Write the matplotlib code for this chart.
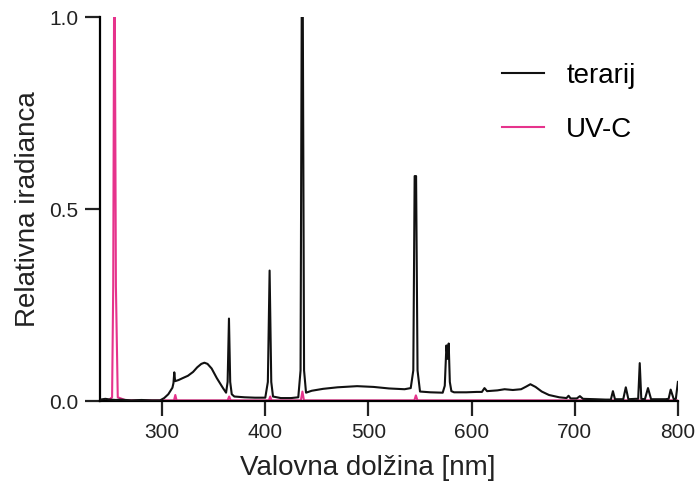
import numpy as np
import matplotlib.pyplot as plt

plt.rcParams['font.family'] = ['Liberation Sans', 'DejaVu Sans']

# spectrum of the terrarium lamp (wavelength nm, relative irradiance)
wl_terarij = [240, 245, 250, 255, 260, 270, 280, 290, 298, 302, 306, 310, 311, 311.8, 312.6,
              316, 320, 325, 330, 334, 338, 341, 344, 348, 353, 359, 362, 363.5, 364.8, 366,
              367.5, 370, 380, 390, 400, 402.5, 404.2, 405.8, 407.5, 415, 425, 432, 434.2,
              435.3, 436.4, 437.6, 439.5, 445, 456, 470, 489, 505, 520, 535, 541, 543.5,
              544.8, 546.2, 547.6, 550, 560, 572, 574, 575.6, 576.8, 577.8, 578.9, 580.4,
              583, 595, 605, 610, 612.5, 615, 625, 632, 640, 648, 653, 657, 662, 668, 675,
              685, 692, 694, 696, 702, 705, 708, 720, 730, 735, 737, 739, 747, 749.5, 752,
              759, 761.5, 763, 764.5, 768, 771, 774, 788, 791, 793, 796, 798, 800]
val_terarij = [0.004, 0.006, 0.004, 0.003, 0.004, 0.002, 0.003, 0.002, 0.002, 0.008, 0.018,
               0.035, 0.047, 0.075, 0.052, 0.055, 0.06, 0.066, 0.076, 0.088, 0.097, 0.1,
               0.097, 0.085, 0.06, 0.034, 0.022, 0.05, 0.215, 0.05, 0.018, 0.012, 0.01,
               0.009, 0.009, 0.05, 0.34, 0.05, 0.012, 0.008, 0.008, 0.01, 0.08, 1.0, 1.0,
               0.08, 0.022, 0.027, 0.032, 0.036, 0.039, 0.037, 0.033, 0.031, 0.034, 0.08,
               0.586, 0.586, 0.08, 0.025, 0.023, 0.022, 0.04, 0.145, 0.11, 0.15, 0.05,
               0.026, 0.023, 0.023, 0.024, 0.024, 0.034, 0.026, 0.028, 0.031, 0.029, 0.031,
               0.038, 0.044, 0.037, 0.025, 0.016, 0.01, 0.008, 0.014, 0.007, 0.007, 0.013,
               0.006, 0.005, 0.004, 0.004, 0.026, 0.005, 0.005, 0.036, 0.005, 0.006, 0.006,
               0.099, 0.006, 0.005, 0.034, 0.005, 0.005, 0.006, 0.03, 0.005, 0.006, 0.05]

# spectrum of the UV-C lamp
wl_uvc = [240, 248, 251.5, 252.6, 253.4, 254.2, 255.2, 257, 265, 300, 311.5, 312.8, 314,
          363.5, 365, 366.5, 403.5, 404.8, 406, 434.5, 436, 437.5, 544.5, 546, 547.5, 600,
          700, 800]
val_uvc = [0.002, 0.002, 0.01, 0.3, 1.0, 1.0, 0.3, 0.01, 0.002, 0.002, 0.002, 0.016, 0.002,
           0.002, 0.012, 0.002, 0.002, 0.012, 0.002, 0.002, 0.025, 0.002, 0.002, 0.015, 0.002,
           0.002, 0.002, 0.002]

fig = plt.figure(figsize=(6.96, 4.88), dpi=100)
ax = fig.add_axes([0.144, 0.178, 0.830, 0.787])

ax.plot(wl_uvc, val_uvc, color='#E6338C', lw=1.5, label='UV-C', zorder=2)
ax.plot(wl_terarij, val_terarij, color='#111111', lw=1.5, label='terarij', zorder=3)

ax.set_xlim(240, 800)
ax.set_ylim(0, 1.0)
ax.set_xticks([300, 400, 500, 600, 700, 800])
ax.set_yticks([0.0, 0.5, 1.0])
ax.set_yticklabels(['0.0', '0.5', '1.0'])
ax.spines['top'].set_visible(False)
ax.spines['right'].set_visible(False)
ax.spines['left'].set_linewidth(1.6)
ax.spines['bottom'].set_linewidth(1.6)
ax.tick_params(length=10.5, width=1.6, labelsize=15, colors='#222222', pad=5)

ax.set_xlabel('Valovna dolžina [nm]', fontsize=20, color='#222222')
ax.xaxis.set_label_coords(0.463, -0.14)
ax.set_ylabel('Relativna iradianca', fontsize=20, color='#222222', labelpad=6)

h, l = ax.get_legend_handles_labels()
ax.legend([h[1], h[0]], [l[1], l[0]], loc='upper right', bbox_to_anchor=(0.97, 0.945),
          frameon=False, fontsize=20, handlelength=1.5, handletextpad=0.8, labelspacing=1.0)

fig.savefig('out.png', dpi=100)
